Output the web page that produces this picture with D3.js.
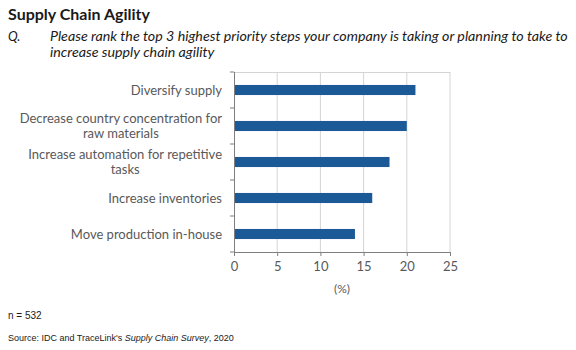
<!DOCTYPE html>
<html>
<head>
<meta charset="utf-8">
<script src="https://cdn.jsdelivr.net/npm/d3@7"></script>
<style>
  body { margin: 0; background: #fff; }
  svg { display: block; }
</style>
</head>
<body>
<script>
// data
const categories = [
  ["Diversify supply"],
  ["Decrease country concentration for", "raw materials"],
  ["Increase automation for repetitive", "tasks"],
  ["Increase inventories"],
  ["Move production in-house"]
];
const values = [21, 20, 18, 16, 14];
const xTicks = [0, 5, 10, 15, 20, 25];

const title = "Supply Chain Agility";
const question = ["Please rank the top 3 highest priority steps your company is taking or planning to take to",
                  "increase supply chain agility"];

const width = 576, height = 350;
const margin = {left: 234, top: 72, right: 126, bottom: 98};
const plotW = width - margin.left - margin.right;
const plotH = height - margin.top - margin.bottom;

const svg = d3.select("body").append("svg").attr("width", width).attr("height", height);

const labelFont = "Lato, 'Open Sans', sans-serif";

// header
svg.append("text").attr("x", 8).attr("y", 20)
   .attr("font-family", labelFont).attr("font-weight", "bold")
   .attr("font-size", 16).attr("fill", "#1a1a1a").text(title);

svg.append("text").attr("x", 8).attr("y", 41)
   .attr("font-family", labelFont).attr("font-style", "italic")
   .attr("font-size", 13).attr("fill", "#1a1a1a").text("Q.");

const q = svg.append("g").selectAll("text").data(question).join("text")
   .attr("x", 50).attr("y", (d, i) => 41 + i * 16)
   .attr("font-family", labelFont).attr("font-style", "italic")
   .attr("font-size", 13).attr("fill", "#1a1a1a").text(d => d);
// the reference font runs wider; grow the size so line one ends near the right edge
const qw = q.node().getComputedTextLength();
q.attr("font-size", 13 * 518 / qw);

const g = svg.append("g").attr("transform", `translate(${margin.left}, ${margin.top})`);

const x = d3.scaleLinear().domain([0, 25]).range([0, plotW]);
const y = d3.scaleBand().domain(d3.range(values.length)).range([0, plotH])
            .paddingInner(0.72).paddingOuter(0.36);

// grid + frame
g.append("g").selectAll("line").data(xTicks.slice(1)).join("line")
 .attr("x1", d => x(d)).attr("x2", d => x(d))
 .attr("y1", 0).attr("y2", plotH)
 .attr("stroke", "#d4d4d4").attr("stroke-width", 1);
g.append("line").attr("x1", 0).attr("x2", plotW).attr("y1", 0.5).attr("y2", 0.5)
 .attr("stroke", "#d4d4d4");

// bars
g.append("g").selectAll("rect").data(values).join("rect")
 .attr("x", x(0)).attr("y", (d, i) => y(i))
 .attr("width", d => x(d) - x(0)).attr("height", y.bandwidth())
 .attr("fill", "#1b5a96");

// x axis
const xAxis = g.append("g").attr("transform", `translate(0, ${plotH})`)
  .call(d3.axisBottom(x).tickValues(xTicks).tickSizeOuter(0).tickSize(4).tickPadding(6));
xAxis.select(".domain").attr("stroke", "#7f7f7f");
xAxis.selectAll(".tick line").attr("stroke", "#7f7f7f");
xAxis.selectAll("text").attr("font-family", labelFont).attr("font-size", 13).attr("fill", "#595959");

// y axis: ticks on band boundaries
const bounds = d3.range(values.length + 1).map(i => i * y.step());
const yLine = g.append("g");
yLine.append("line").attr("x1", 0.5).attr("x2", 0.5).attr("y1", 0).attr("y2", plotH).attr("stroke", "#7f7f7f");
yLine.selectAll(".tk").data(bounds).join("line").attr("class", "tk")
 .attr("x1", -4).attr("x2", 0).attr("y1", d => d).attr("y2", d => d).attr("stroke", "#7f7f7f");

// category labels, lines centred on each other, block right-aligned
const lab = g.append("g").selectAll("text").data(categories).join("text")
  .attr("text-anchor", "middle")
  .attr("font-family", labelFont).attr("font-size", 13).attr("fill", "#595959")
  .attr("transform", (d, i) => `translate(-12, ${y(i) + y.bandwidth() / 2})`);
lab.selectAll("tspan").data(d => d.map((t, j) => ({t, j, n: d.length}))).join("tspan")
  .attr("y", d => (d.j - (d.n - 1) / 2) * 15)
  .attr("dy", "0.35em")
  .text(d => d.t);
lab.each(function() {
  const spans = d3.select(this).selectAll("tspan");
  const w = d3.max(spans.nodes(), n => n.getComputedTextLength());
  spans.attr("x", -w / 2);
});

// axis title
svg.append("text").attr("x", margin.left + x(12.5)).attr("y", 293).attr("text-anchor", "middle")
   .attr("font-family", labelFont).attr("font-size", 12).attr("fill", "#595959").text("(%)");

// footnotes
svg.append("text").attr("x", 8).attr("y", 319)
   .attr("font-family", "'Liberation Sans', Arial, sans-serif").attr("font-size", 10).attr("fill", "#1a1a1a")
   .text("n = 532");
const src = svg.append("text").attr("x", 8).attr("y", 341)
   .attr("font-family", "'Liberation Sans', Arial, sans-serif").attr("font-size", 9).attr("fill", "#1a1a1a");
src.append("tspan").text("Source: IDC and TraceLink's ");
src.append("tspan").attr("font-style", "italic").text("Supply Chain Survey");
src.append("tspan").text(", 2020");
</script>
</body>
</html>
